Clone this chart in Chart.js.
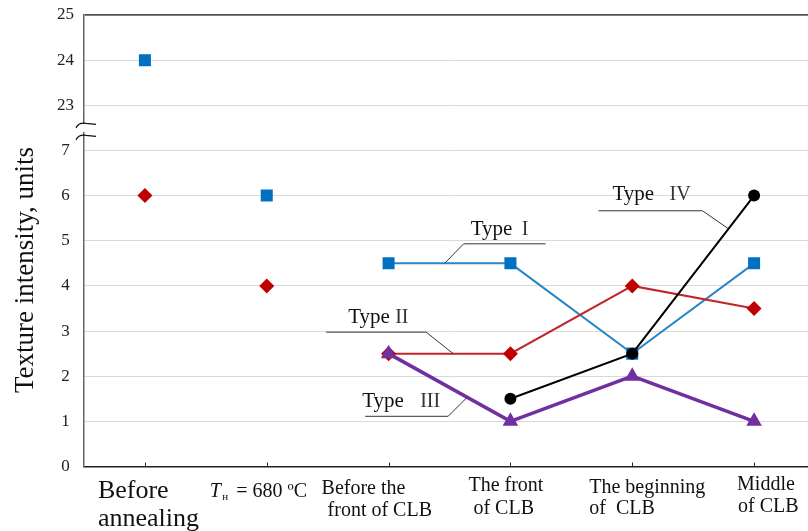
<!DOCTYPE html>
<html><head><meta charset="utf-8">
<script src="https://cdn.jsdelivr.net/npm/chart.js@4.4.1/dist/chart.umd.min.js"></script>
<style>
html,body{margin:0;padding:0;background:#fff;overflow:hidden;}
#wrap{width:824px;height:531px;}
</style></head>
<body>
<div id="wrap"><canvas id="c" width="824" height="531"></canvas></div>
<script>
// ---- data ----
const categories = [['Before','annealing'], ['T_н = 680 ºC'], ['Before the','front of CLB'], ['The front','of CLB'], ['The beginning','of  CLB'], ['Middle','of CLB']];
const typeI   = [24, 6, 4.5, 4.5, 2.5, 4.5];
const typeII  = [6, 4, 2.5, 2.5, 4, 3.5];
const typeIII = [null, null, 2.5, 1, 2, 1];
const typeIV  = [null, null, null, 1.5, 2.5, 6];
const yTickLabels = ['0','1','2','3','4','5','6','7','23','24','25'];
const seriesNames = ['Type  I', 'Type II', 'Type   III', 'Type   IV'];
const yTitle = 'Texture intensity, units';

// broken axis: values above the break are shifted down to sit just above 7
const BREAK_LOW = 7, BREAK_HIGH = 23;
function toAxis(v){ if (v === null) return null; return v >= BREAK_HIGH ? v - (BREAK_HIGH - BREAK_LOW - 1) : v; }

const SERIF = '"Liberation Serif", "Times New Roman", serif';
const hidden = 'rgba(0,0,0,0)';
function lineFrom(start, color){
  return { borderColor: ctx => ctx.p0DataIndex < start ? hidden : color };
}

const datasets = [
  { label: seriesNames[0], data: typeI.map(toAxis), order: 3,
    borderColor: '#2a86c6', borderWidth: 2, backgroundColor: '#0070C0',
    pointBackgroundColor: '#0070C0', pointBorderColor: '#0070C0', pointStyle: 'rect', pointRadius: 8.5, pointBorderWidth: 0,
    segment: lineFrom(2, '#2a86c6') },
  { label: seriesNames[1], data: typeII.map(toAxis), order: 2,
    borderColor: '#c0262a', borderWidth: 2, backgroundColor: '#C00000',
    pointBackgroundColor: '#C00000', pointBorderColor: '#C00000', pointStyle: 'rectRot', pointRadius: 7.5, pointBorderWidth: 0,
    segment: lineFrom(2, '#c0262a') },
  { label: seriesNames[2], data: typeIII.map(toAxis), order: 1,
    borderColor: '#7030A0', borderWidth: 3.5, backgroundColor: '#7030A0',
    pointBackgroundColor: '#7030A0', pointBorderColor: '#7030A0', pointStyle: 'triangle', pointRadius: 9, pointBorderWidth: 0 },
  { label: seriesNames[3], data: typeIV.map(toAxis), order: 0,
    borderColor: '#000', borderWidth: 2, backgroundColor: '#000',
    pointBackgroundColor: '#000', pointBorderColor: '#000', pointStyle: 'circle', pointRadius: 6, pointBorderWidth: 0 }
];

// callouts: anchored on a series at fractional category position
const callouts = [
  { series: typeI,   at: 2.46,  elbow: [19, -19.5], under: [0, 82],    text: [7, -9],  num: 51, name: 'Type', numeral: 'I' },
  { series: typeII,  at: 2.53,  elbow: [-27, -21.5], under: [-100, 0], text: [-78, -9], num: 47, name: 'Type', numeral: 'II' },
  { series: typeIII, at: 2.645, elbow: [-19, 19],   under: [-83, 0],   text: [-86, -9], num: 58, name: 'Type', numeral: 'III' },
  { series: typeIV,  at: 4.79,  elbow: [-26, -18],  under: [-104, 0],  text: [-90, -11], num: 57, name: 'Type', numeral: 'IV' }
];

// x label layout (offset of line start from tick, baseline offset below axis)
const xLabelLayout = [
  { size: 26, lines: [[-47, 31], [-47, 59]] },
  { size: 20, lines: [[-57, 30]] },
  { size: 20, lines: [[-67, 27], [-61, 49]] },
  { size: 20, lines: [[-42, 24], [-37, 47]] },
  { size: 20, lines: [[-43, 26], [-43, 47]] },
  { size: 20, lines: [[-17, 23], [-16, 45]] }
];

const decor = {
  id: 'decor',
  afterDraw(chart){
    const ctx = chart.ctx, xs = chart.scales.x, ys = chart.scales.y, ca = chart.chartArea;
    ctx.save();
    // y title
    ctx.save();
    ctx.translate(33, 270);
    ctx.rotate(-Math.PI / 2);
    ctx.font = '27px ' + SERIF; ctx.fillStyle = '#111';
    ctx.textAlign = 'center'; ctx.textBaseline = 'alphabetic';
    ctx.fillText(yTitle, 0, 0);
    ctx.restore();
    // inner tick marks on x axis
    ctx.strokeStyle = '#222'; ctx.lineWidth = 1;
    categories.forEach((c, i) => {
      const x = Math.round(xs.getPixelForValue(i)) + 0.5;
      ctx.beginPath(); ctx.moveTo(x, ca.bottom - 4); ctx.lineTo(x, ca.bottom); ctx.stroke();
    });
    // x labels
    ctx.fillStyle = '#111'; ctx.textBaseline = 'alphabetic'; ctx.textAlign = 'left';
    categories.forEach((lines, i) => {
      const tx = xs.getPixelForValue(i), L = xLabelLayout[i];
      lines.forEach((s, j) => {
        const [dx, dy] = L.lines[j];
        let x = tx + dx; const y = ca.bottom + dy;
        if (s.includes('_')) {
          const [main, rest] = s.split('_');
          ctx.font = 'italic ' + L.size + 'px ' + SERIF;
          ctx.fillText(main, x, y); x += ctx.measureText(main).width + 1.5;
          const sub = rest[0], tail = rest.slice(1);
          ctx.font = Math.round(L.size * 0.55) + 'px ' + SERIF;
          ctx.fillText(sub, x, y + 3); x += ctx.measureText(sub).width + 3;
          ctx.font = L.size + 'px ' + SERIF;
          ctx.fillText(tail, x, y);
        } else {
          ctx.font = L.size + 'px ' + SERIF;
          ctx.fillText(s, x, y);
        }
      });
    });
    // axis break
    const yb = ys.getPixelForValue(BREAK_LOW + 0.5);
    const ax = ca.left;
    ctx.fillStyle = '#fff';
    ctx.fillRect(ax - 2, yb - 4, 4, 8);
    ctx.strokeStyle = '#111'; ctx.lineWidth = 1.2;
    [-4, 8].forEach(off => {
      const y = yb + off;
      ctx.beginPath();
      ctx.moveTo(ax - 8, y + 4);
      ctx.bezierCurveTo(ax - 6, y, ax - 3, y - 1.5, ax + 2, y - 0.5);
      ctx.lineTo(ax + 12, y + 0.5);
      ctx.stroke();
    });
    // callouts
    callouts.forEach(c => {
      const i0 = Math.floor(c.at), f = c.at - i0;
      const v = toAxis(c.series[i0]) + f * (toAxis(c.series[i0 + 1]) - toAxis(c.series[i0]));
      const axp = xs.getPixelForValue(c.at), ayp = ys.getPixelForValue(v);
      const ex = axp + c.elbow[0], ey = ayp + c.elbow[1];
      ctx.strokeStyle = '#333'; ctx.lineWidth = 1;
      ctx.beginPath();
      ctx.moveTo(axp, ayp); ctx.lineTo(ex, ey);
      ctx.moveTo(ex + c.under[0], ey); ctx.lineTo(ex + c.under[1], ey);
      ctx.stroke();
      const tx = ex + c.text[0], ty = ey + c.text[1];
      ctx.font = '21px ' + SERIF; ctx.fillStyle = '#111';
      ctx.fillText(c.name, tx, ty);
      ctx.fillStyle = '#333';
      ctx.font = '20px ' + SERIF;
      ctx.fillText(c.numeral, tx + c.num, ty);
    });
    ctx.restore();
  }
};

new Chart(document.getElementById('c'), {
  type: 'line',
  data: { labels: categories, datasets },
  options: {
    responsive: false, devicePixelRatio: 1, animation: false,
    layout: { padding: { top: 15, right: 0, left: 0, bottom: 0 } },
    plugins: { legend: { display: false }, tooltip: { enabled: false } },
    scales: {
      x: {
        offset: true,
        grid: { display: false, drawTicks: false },
        border: { display: true, color: '#222', width: 1.5 },
        ticks: { display: false },
        afterFit(s){ s.height = 64.5; s.paddingLeft = 0; s.paddingRight = 0; }
      },
      y: {
        min: 0, max: 10,
        grid: {
          drawTicks: false,
          color: c => c.tick && c.tick.value === 10 ? '#555' : (c.tick && c.tick.value === 0 ? hidden : '#d9d9d9'),
          lineWidth: c => c.tick && c.tick.value === 10 ? 1.8 : 1
        },
        border: { display: true, color: '#666', width: 1.5 },
        ticks: {
          stepSize: 1, padding: 10, color: '#222', crossAlign: 'center',
          font: { family: SERIF, size: 17 },
          callback: v => yTickLabels[v]
        },
        title: { display: false },
        afterFit(s){ s.width = 84; s.paddingTop = 0; s.paddingBottom = 0; }
      }
    }
  },
  plugins: [decor]
});
</script>
</body></html>
